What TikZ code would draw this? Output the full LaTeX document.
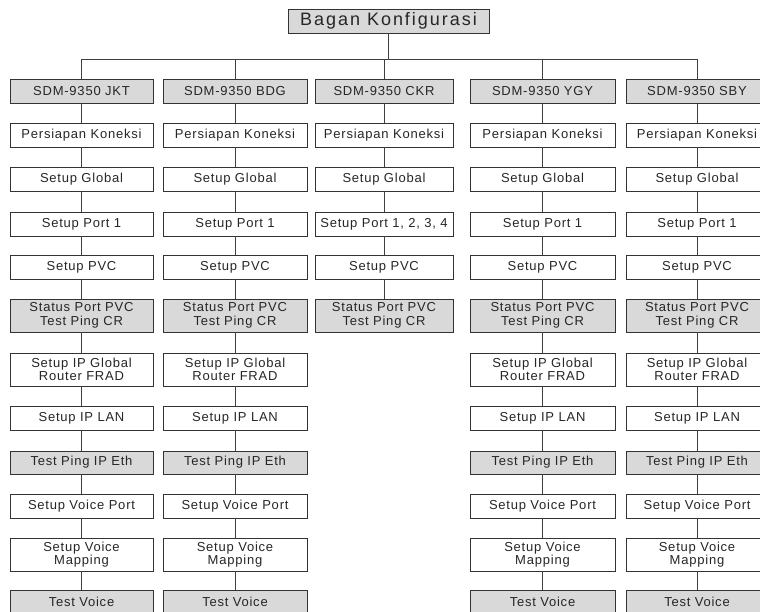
\documentclass[tikz,border=0pt]{standalone}
\usepackage{fontspec}
\setmainfont{Liberation Sans}[LetterSpace=6]
\begin{document}
\begin{tikzpicture}[x=1pt,y=-1pt,
  box/.style={draw=black!80, line width=0.9pt, inner sep=0pt, align=center,
    font=\fontsize{13}{13.5}\selectfont, text=black!85},
  titlebox/.style={box, fill=shadec, minimum width=201pt, minimum height=24pt,
    font=\fontsize{18}{20}\selectfont\addfontfeature{LetterSpace=11}},
  conn/.style={draw=black!75, line width=0.8pt}]
\definecolor{shadec}{gray}{0.85}
\useasboundingbox (0,0) rectangle (760,611);
\clip (0,0) rectangle (760,611);

\node[titlebox] (title) at (388.5,21) {Bagan Konfigurasi};
\coordinate (busL) at (81.5,59);
\coordinate (busR) at (697,59);

\foreach \ci/\cx/\cw/\cl in {1/81.5/143/JKT, 2/235/144/BDG, 4/542.5/145/YGY, 5/697/142/SBY} {
  \foreach \ri/\ry/\rh/\rf/\rt in {
      0/91/24/shadec/{SDM-9350 \cl},
      1/135/24/white/{Persiapan Koneksi},
      2/179/24/white/{Setup Global},
      3/224/24/white/{Setup Port 1},
      4/267/24/white/{Setup PVC},
      5/315.5/33/shadec/{Status Port PVC\\Test Ping CR},
      6/369.5/33/white/{Setup IP Global\\Router FRAD},
      7/418/24/white/{Setup IP LAN},
      8/462.5/23/shadec/{Test Ping IP Eth},
      9/506/24/white/{Setup Voice Port},
      10/554.5/33/white/{Setup Voice\\Mapping},
      11/602/24/shadec/{Test Voice}} {
    \node[box, fill=\rf, minimum width=\cw pt, minimum height=\rh pt] (n\ci-\ri) at (\cx,\ry) {\rt};
  }
  \foreach \a/\b in {0/1,1/2,2/3,3/4,4/5,5/6,6/7,7/8,8/9,9/10,10/11}
    \draw[conn] (n\ci-\a) -- (n\ci-\b);
}

\foreach \ri/\ry/\rh/\rf/\rt in {
    0/91/24/shadec/{SDM-9350 CKR},
    1/135/24/white/{Persiapan Koneksi},
    2/179/24/white/{Setup Global},
    3/224/24/white/{Setup Port 1, 2, 3, 4},
    4/267/24/white/{Setup PVC},
    5/315.5/33/shadec/{Status Port PVC\\Test Ping CR}} {
  \node[box, fill=\rf, minimum width=138pt, minimum height=\rh pt] (n3-\ri) at (384,\ry) {\rt};
}
\foreach \a/\b in {0/1,1/2,2/3,3/4,4/5}
  \draw[conn] (n3-\a) -- (n3-\b);

\draw[conn] (title) -- (title |- busL);
\draw[conn] (busL) -- (busR);
\foreach \ci in {1,...,5}
  \draw[conn] (n\ci-0) -- (n\ci-0 |- busL);
\end{tikzpicture}
\end{document}
